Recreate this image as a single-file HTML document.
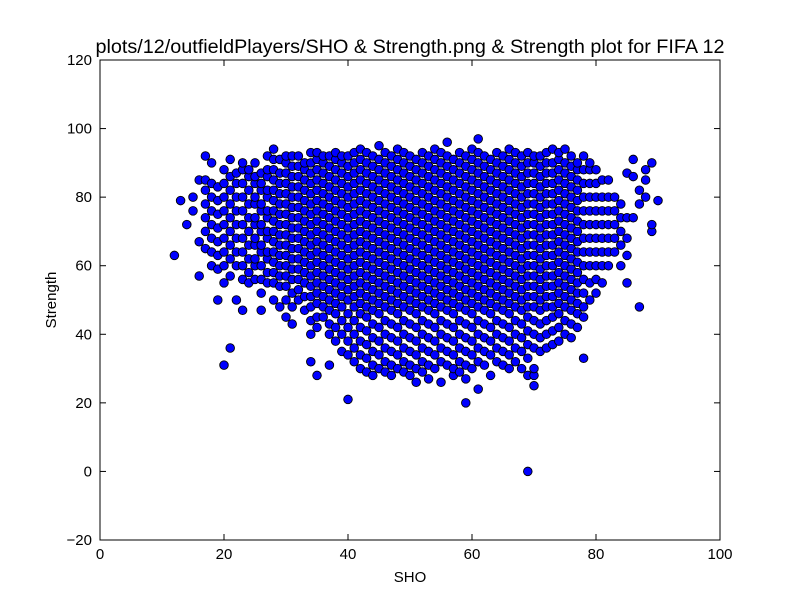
<!DOCTYPE html>
<html><head><meta charset="utf-8"><style>
body{margin:0;background:#fff;}
svg{display:block;font-family:"Liberation Sans",sans-serif;}
</style></head><body>
<svg id="chart" width="800" height="600" viewBox="0 0 800 600" xmlns="http://www.w3.org/2000/svg">
<rect width="800" height="600" fill="#fff"/>
<text x="410" y="53" text-anchor="middle" font-size="19.8">plots/12/outfieldPlayers/SHO &amp; Strength.png &amp; Strength plot for FIFA 12</text>
<g id="points"></g>
<rect x="100" y="60" width="620" height="480" fill="none" stroke="#000" stroke-width="1"/>
<g id="xticks"></g>
<g id="yticks"></g>
<text x="410" y="582" text-anchor="middle" font-size="15">SHO</text>
<text x="56" y="300" text-anchor="middle" font-size="15" transform="rotate(-90 56 300)">Strength</text>
</svg>
<script>
const xTicks=[0,20,40,60,80,100];
const yTicks=[-20,0,20,40,60,80,100,120];
const shoValues=[12,13,14,15,16,17,18,19,20,21,22,23,24,25,26,27,28,29,30,31,32,33,34,35,36,37,38,39,40,41,42,43,44,45,46,47,48,49,50,51,52,53,54,55,56,57,58,59,60,61,62,63,64,65,66,67,68,69,70,71,72,73,74,75,76,77,78,79,80,81,82,83,84,85,86,87,88,89,90];
const strengthBySho=[
[63],[79],[72],[76,80],[57,67,85],[65,70,74,78,82,85,92],[60,64,68,72,76,80,84,90],[50,59,63,67,71,75,79,83],
[31,55,60,64,68,72,76,80,84,88],[36,57,62,66,70,74,78,82,86,91],[50,60,64,68,72,76,80,84,87],[47,56,60,64,68,72,76,80,84,88,90],
[55,58,62,66,70,74,78,82,86,88],[56,60,62,66,68,72,74,78,80,84,86,90],[47,52,56,60,64,66,70,72,76,78,82,84,87],
[55,58,62,64,68,70,74,76,80,82,86,88,92],[50,55,58,61,64,67,70,73,76,79,82,85,88,91,94],[48,54,57,60,63,66,69,72,75,78,81,84,87,91],
[45,50,54,57,60,63,66,69,72,75,78,81,84,87,90,92],[43,48,52,56,59,62,65,68,71,74,77,80,83,86,89,92],
[50,53,56,59,62,65,68,71,74,77,80,83,86,89,92],[47,51,55,58,61,64,67,70,73,76,79,82,85,88,90],
[32,40,44,48,51,54,57,60,63,66,69,72,75,78,81,84,87,90,93],[28,42,45,49,52,55,58,61,64,67,70,73,76,79,82,85,88,91,93],
[45,48,51,54,57,60,63,66,69,72,75,78,81,84,87,90,92],[31,40,43,47,50,53,56,59,62,65,68,71,74,77,80,83,86,89,92],
[38,42,46,49,52,55,58,61,64,67,70,73,76,79,82,85,88,91,93],[35,40,44,48,51,54,57,60,63,66,69,72,75,78,81,84,87,90,92],
[21,34,38,42,46,50,53,56,59,62,65,68,71,74,77,80,83,86,89,92],[32,36,40,44,48,51,54,57,60,63,66,69,72,75,78,81,84,87,90,93],
[30,34,38,42,46,49,52,55,58,61,64,67,70,73,76,79,82,85,88,91,94],[29,33,37,41,45,48,51,54,57,60,63,66,69,72,75,78,81,84,87,90,93],
[28,31,35,39,43,47,50,53,56,59,62,65,68,71,74,77,80,83,86,89,92],[30,34,38,42,46,49,52,55,58,61,64,67,70,73,76,79,82,85,88,91,95],
[29,32,36,40,44,48,51,54,57,60,63,66,69,72,75,78,81,84,87,90,93],[28,31,35,39,43,47,50,53,56,59,62,65,68,71,74,77,80,83,86,89,92],
[30,34,38,42,46,49,52,55,58,61,64,67,70,73,76,79,82,85,88,91,94],[29,32,36,40,44,48,51,54,57,60,63,66,69,72,75,78,81,84,87,90,93],
[28,31,35,39,43,47,50,53,56,59,62,65,68,71,74,77,80,83,86,89,92],[26,30,34,38,42,46,49,52,55,58,61,64,67,70,73,76,79,82,85,88,91],
[29,32,36,40,44,48,51,54,57,60,63,66,69,72,75,78,81,84,87,90,93],[27,31,35,39,43,47,50,53,56,59,62,65,68,71,74,77,80,83,86,89,92],
[30,34,38,42,46,49,52,55,58,61,64,67,70,73,76,79,82,85,88,91,94],[26,32,36,40,44,48,51,54,57,60,63,66,69,72,75,78,81,84,87,90,93],
[31,35,39,43,47,50,53,56,59,62,65,68,71,74,77,80,83,86,89,92,96],[28,30,34,38,42,46,49,52,55,58,61,64,67,70,73,76,79,82,85,88,91],
[29,32,36,40,44,48,51,54,57,60,63,66,69,72,75,78,81,84,87,90,93],[20,27,31,35,39,43,47,50,53,56,59,62,65,68,71,74,77,80,83,86,89,92],
[30,34,38,42,46,49,52,55,58,61,64,67,70,73,76,79,82,85,88,91,94],[24,32,36,40,44,48,51,54,57,60,63,66,69,72,75,78,81,84,87,90,93,97],
[31,35,39,43,47,50,53,56,59,62,65,68,71,74,77,80,83,86,89,92],[28,34,38,42,46,49,52,55,58,61,64,67,70,73,76,79,82,85,88,91],
[32,36,40,44,48,51,54,57,60,63,66,69,72,75,78,81,84,87,90,93],[31,35,39,43,47,50,53,56,59,62,65,68,71,74,77,80,83,86,89,92],
[30,34,38,42,46,49,52,55,58,61,64,67,70,73,76,79,82,85,88,91,94],[32,36,40,44,48,51,54,57,60,63,66,69,72,75,78,81,84,87,90,93],
[30,35,39,43,47,50,53,56,59,62,65,68,71,74,77,80,83,86,89,92],[0,28,33,37,41,45,48,51,54,57,60,63,66,69,72,75,78,81,84,87,90,93],
[25,28,30,36,40,44,48,51,54,57,60,63,66,69,72,75,78,81,84,87,90,92],[35,39,43,47,50,53,56,59,62,65,68,71,74,77,80,83,86,89,92],
[36,40,44,48,51,54,57,60,63,66,69,72,75,78,81,84,87,90,93],[37,41,45,48,51,54,57,60,63,66,69,72,75,78,81,84,87,90,94],
[38,42,46,49,52,55,58,61,64,67,70,73,76,79,82,85,88,91,93],[40,44,48,51,54,57,60,63,66,69,72,75,78,81,84,87,90,94],
[39,43,47,50,53,56,59,62,65,68,71,74,77,80,83,86,89,92],[42,46,49,52,55,58,61,64,67,70,73,76,79,82,85,88,90],
[33,45,48,52,56,60,64,68,72,76,80,84,88,92],[50,55,60,64,68,72,76,80,84,88,90],[52,56,60,64,68,72,76,80,84,88],
[55,60,64,68,72,76,80,85],[60,64,68,72,76,80,85],[64,68,72,76,80],[60,66,70,74,78],[55,63,68,74,87],[74,86,91],
[48,78,82],[80,85,88],[70,72,90],[79]
];
const NS="http://www.w3.org/2000/svg";
const X0=100,X1=720,Y0=540,Y1=60;
const xs=v=>X0+(v-0)/(100-0)*(X1-X0);
const ys=v=>Y0-(v+20)/(140)*(Y0-Y1);
const gp=document.getElementById('points');
shoValues.forEach((sx,i)=>{
  (strengthBySho[i]||[]).forEach(sy=>{
    const c=document.createElementNS(NS,'circle');
    c.setAttribute('cx',xs(sx));c.setAttribute('cy',ys(sy));c.setAttribute('r',4.3);
    c.setAttribute('fill','#0000ff');c.setAttribute('stroke','#000');c.setAttribute('stroke-width','0.9');
    
    
    gp.appendChild(c);
  });
});
const gx=document.getElementById('xticks');
xTicks.forEach(t=>{
  const x=xs(t);
  [[Y0,Y0-6],[Y1,Y1+6]].forEach(p=>{
    const l=document.createElementNS(NS,'line');
    l.setAttribute('x1',x);l.setAttribute('x2',x);l.setAttribute('y1',p[0]);l.setAttribute('y2',p[1]);l.setAttribute('stroke','#000');
    
    
    gx.appendChild(l);
  });
  const tx=document.createElementNS(NS,'text');
  tx.setAttribute('x',x);tx.setAttribute('y',Y0+19);tx.setAttribute('text-anchor','middle');tx.setAttribute('font-size','15');
  tx.textContent=t;
  
  
  gx.appendChild(tx);
});
const gy=document.getElementById('yticks');
yTicks.forEach(t=>{
  const y=ys(t);
  [[X0,X0+6],[X1,X1-6]].forEach(p=>{
    const l=document.createElementNS(NS,'line');
    l.setAttribute('y1',y);l.setAttribute('y2',y);l.setAttribute('x1',p[0]);l.setAttribute('x2',p[1]);l.setAttribute('stroke','#000');
    
    
    gy.appendChild(l);
  });
  const tx=document.createElementNS(NS,'text');
  tx.setAttribute('x',X0-8);tx.setAttribute('y',y+5);tx.setAttribute('text-anchor','end');tx.setAttribute('font-size','15');
  tx.textContent=t<0?'\u2212'+(-t):t;
  
  
  gy.appendChild(tx);
});
</script>
</body></html>
